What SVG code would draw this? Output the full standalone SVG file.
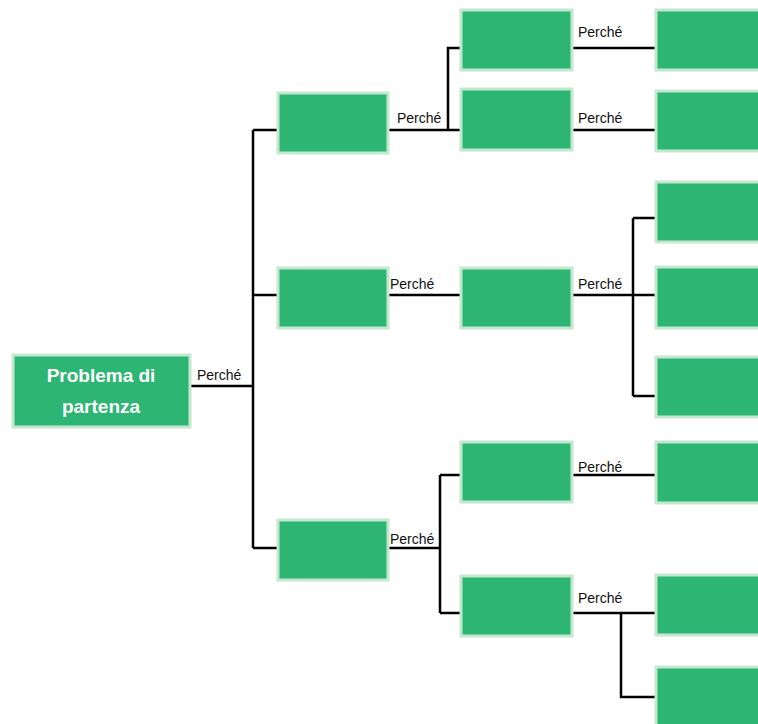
<svg xmlns="http://www.w3.org/2000/svg" width="758" height="724" viewBox="0 0 758 724">
<style>
.box{fill:#2db573;stroke:#c4e8cd;stroke-width:3}
.ln{fill:none;stroke:#000;stroke-width:2.5}
.lbl{font-family:"Liberation Sans",Arial,sans-serif;font-size:14px;fill:#111}
.rt{font-family:"Liberation Sans",Arial,sans-serif;font-size:19px;font-weight:bold;fill:#fff;text-anchor:middle}
</style>
<rect width="758" height="724" fill="#fff"/>
<g id="connectors">
<path class="ln" d="M191 386H253M253 130V548M253 130H277M253 295H277M253 548H277"/>
<path class="ln" d="M389 130H460M448 130V48H460"/>
<path class="ln" d="M389 295H460"/>
<path class="ln" d="M389 548H440M440 475V613M440 475H460M440 613H460"/>
<path class="ln" d="M573 48H655M573 130H655"/>
<path class="ln" d="M573 295H655M633 218V396M633 218H655M633 396H655"/>
<path class="ln" d="M573 475H655"/>
<path class="ln" d="M573 613H655M621 613V697H655"/>
<text class="lbl" x="197" y="380">Perché</text>
<text class="lbl" x="397" y="123">Perché</text>
<text class="lbl" x="390" y="289">Perché</text>
<text class="lbl" x="390" y="544">Perché</text>
<text class="lbl" x="578" y="37">Perché</text>
<text class="lbl" x="578" y="123">Perché</text>
<text class="lbl" x="578" y="289">Perché</text>
<text class="lbl" x="578" y="472">Perché</text>
<text class="lbl" x="578" y="603">Perché</text>
</g>
<g id="root"><rect class="box" x="13" y="355" width="177" height="72"/>
<text class="rt" x="101" y="382">Problema di</text><text class="rt" x="101" y="413">partenza</text></g>
<g id="a1"><rect class="box" x="278" y="93" width="110" height="60"/></g>
<g id="a2"><rect class="box" x="278" y="268" width="110" height="60"/></g>
<g id="a3"><rect class="box" x="278" y="520" width="110" height="60"/></g>
<g id="b1"><rect class="box" x="461" y="10" width="111" height="60"/></g>
<g id="b2"><rect class="box" x="461" y="89" width="111" height="61"/></g>
<g id="b3"><rect class="box" x="461" y="268" width="111" height="60"/></g>
<g id="b4"><rect class="box" x="461" y="442" width="111" height="60"/></g>
<g id="b5"><rect class="box" x="461" y="576" width="111" height="60"/></g>
<g id="c1"><rect class="box" x="656" y="10" width="110" height="60"/></g>
<g id="c2"><rect class="box" x="656" y="91" width="110" height="60"/></g>
<g id="c3"><rect class="box" x="656" y="182" width="110" height="60"/></g>
<g id="c4"><rect class="box" x="656" y="267" width="110" height="61"/></g>
<g id="c5"><rect class="box" x="656" y="357" width="110" height="60"/></g>
<g id="c6"><rect class="box" x="656" y="442" width="110" height="61"/></g>
<g id="c7"><rect class="box" x="656" y="575" width="110" height="60"/></g>
<g id="c8"><rect class="box" x="656" y="667" width="110" height="60"/></g>
</svg>
